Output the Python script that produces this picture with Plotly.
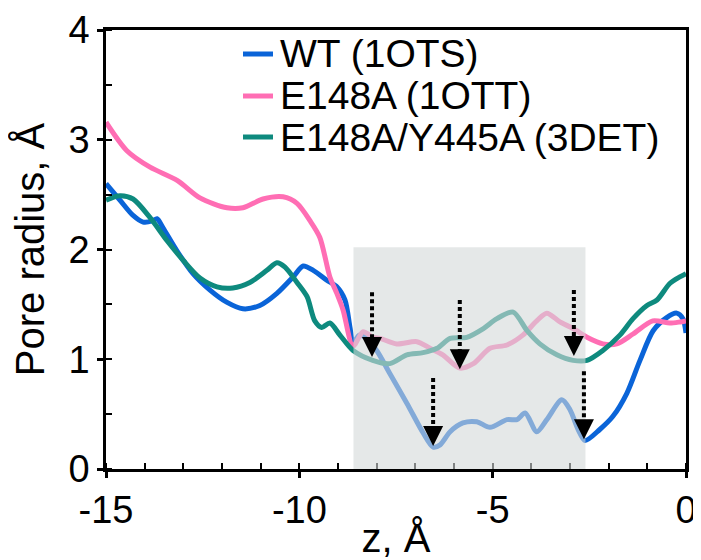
import plotly.graph_objects as go

# ---------------- data ----------------
series_names = ["WT (1OTS)", "E148A (1OTT)", "E148A/Y445A (3DET)"]
series_colors = ["#0a64d8", "#ff6eb4", "#0e8a7e"]

wt_z = [-15.0, -14.64, -14.3, -14.04, -13.8, -13.68, -13.53, -13.17, -12.75, -12.31,
        -11.88, -11.46, -11.02, -10.58, -10.16, -9.9, -9.64, -9.29, -9.03, -8.82,
        -8.69, -8.61, -8.45, -8.3, -8.0, -7.66, -7.22, -6.8, -6.54, -6.36,
        -6.1, -5.77, -5.41, -5.07, -4.63, -4.37, -4.16, -3.86, -3.6, -3.21,
        -3.0, -2.79, -2.61, -2.23, -1.89, -1.53, -1.19, -0.85, -0.5, -0.24,
        -0.08, 0.0]
wt_r = [2.60, 2.45, 2.31, 2.25, 2.26, 2.28, 2.20, 1.99, 1.78, 1.63,
        1.52, 1.46, 1.49, 1.60, 1.75, 1.85, 1.81, 1.72, 1.66, 1.54,
        1.29, 1.15, 1.22, 1.20, 1.08, 0.87, 0.60, 0.33, 0.20, 0.22,
        0.34, 0.42, 0.43, 0.38, 0.45, 0.45, 0.51, 0.34, 0.45, 0.63,
        0.54, 0.36, 0.26, 0.36, 0.48, 0.69, 0.99, 1.26, 1.38, 1.42,
        1.37, 1.24]

e148a_z = [-15.0, -14.46, -13.86, -13.16, -12.57, -11.87, -11.46, -10.94, -10.42, -10.06,
           -9.72, -9.47, -9.21, -9.03, -8.87, -8.61, -8.35, -8.1, -7.91, -7.48,
           -6.96, -6.62, -6.29, -5.85, -5.5, -5.07, -4.63, -4.22, -3.86, -3.6,
           -3.26, -2.92, -2.56, -2.15, -1.79, -1.37, -0.86, -0.42, -0.16, 0.0]
e148a_r = [3.16, 2.90, 2.75, 2.63, 2.47, 2.38, 2.38, 2.46, 2.48, 2.42,
           2.26, 2.11, 1.75, 1.60, 1.45, 1.12, 1.25, 1.20, 1.19, 1.14,
           1.16, 1.10, 1.04, 0.92, 0.96, 1.10, 1.13, 1.22, 1.35, 1.42,
           1.34, 1.28, 1.20, 1.14, 1.14, 1.23, 1.35, 1.33, 1.34, 1.35]

dbl_z = [-15.0, -14.64, -14.3, -13.86, -13.42, -13.0, -12.57, -12.13, -11.72, -11.28,
         -10.84, -10.58, -10.37, -10.06, -9.8, -9.6, -9.42, -9.21, -8.95, -8.61,
         -8.1, -7.66, -7.22, -6.8, -6.44, -6.1, -5.67, -5.24, -4.89, -4.47,
         -4.11, -3.78, -3.34, -2.92, -2.56, -2.15, -1.71, -1.37, -1.01, -0.75,
         -0.42, -0.16, 0.0]
dbl_r = [2.45, 2.49, 2.46, 2.29, 2.08, 1.90, 1.74, 1.66, 1.65, 1.70,
         1.81, 1.88, 1.84, 1.70, 1.57, 1.35, 1.29, 1.33, 1.22, 1.08,
         0.99, 0.96, 1.04, 1.06, 1.10, 1.19, 1.20, 1.28, 1.37, 1.43,
         1.26, 1.14, 1.04, 0.99, 0.99, 1.08, 1.22, 1.37, 1.49, 1.54,
         1.69, 1.75, 1.78]

# highlighted region and arrows
region_z = [-8.6, -2.6]
region_r = [0.0, 2.02]
arrow_z = [-8.12, -5.85, -2.9, -6.54, -2.64]
arrow_top = [1.61, 1.54, 1.63, 0.83, 0.89]
arrow_tip = [1.02, 0.91, 1.03, 0.21, 0.27]

x_ticks = [-15, -10, -5, 0]
y_ticks = [0, 1, 2, 3, 4]

FONT = "Liberation Sans, Arial, sans-serif"

# page body has an 8px default margin; size the figure to fit the 701x560 window
W, H = 693, 552
ML, MR, MT, MB = 98, 15, 22, 91
PW, PH = W - ML - MR, H - MT - MB

fig = go.Figure()
for name, color, z, r in zip(series_names, series_colors,
                             [wt_z, e148a_z, dbl_z], [wt_r, e148a_r, dbl_r]):
    fig.add_trace(go.Scatter(x=z, y=r, mode="lines", name=name,
                             line=dict(color=color, width=5, shape="spline", smoothing=0.8),
                             showlegend=False))

# translucent grey region drawn over the curves
fig.add_shape(type="rect", xref="x", yref="y",
              x0=region_z[0], x1=region_z[1], y0=region_r[0] - 0.02, y1=region_r[1],
              fillcolor="rgba(212,216,216,0.6)", line=dict(width=0), layer="above")

# dotted arrow shafts + arrowheads
for az, at, tip in zip(arrow_z, arrow_top, arrow_tip):
    fig.add_shape(type="line", xref="x", yref="y", x0=az, x1=az, y0=at, y1=tip + 0.13,
                  line=dict(color="black", width=4, dash="4px,3px"), layer="above")
    fig.add_annotation(x=az, y=tip, xref="x", yref="y", ax=az, ay=tip + 0.18,
                       axref="x", ayref="y", text="", showarrow=True,
                       arrowhead=2, arrowsize=2.0, arrowwidth=2, arrowcolor="black")

# legend (manual, to match tight line spacing); positions in plot-area pixels
leg_y_px = [24, 66, 107]
for name, color, py in zip(series_names, series_colors, leg_y_px):
    yp = 1 - py / PH
    fig.add_shape(type="line", xref="paper", yref="paper",
                  x0=137 / PW, x1=167 / PW, y0=yp, y1=yp,
                  line=dict(color=color, width=5), layer="above")
    fig.add_annotation(xref="paper", yref="paper", x=172 / PW, y=yp,
                       xanchor="left", yanchor="middle", text=name, showarrow=False,
                       font=dict(family=FONT, size=39, color="black"))

axis_common = dict(showline=True, linecolor="black", linewidth=2.5, mirror=True,
                   ticks="outside", ticklen=6, tickwidth=2.5, tickcolor="black",
                   showgrid=False, zeroline=False, automargin=False,
                   tickfont=dict(family=FONT, size=38, color="black"))

fig.update_xaxes(range=[-15, 0], tickvals=x_ticks, ticktext=[str(v) for v in x_ticks],
                 minor=dict(ticks="inside", dtick=1, tick0=0, ticklen=6, tickwidth=2, tickcolor="black"),
                 title=dict(text="z, Å", font=dict(family=FONT, size=40, color="black"), standoff=0),
                 **axis_common)
fig.update_yaxes(range=[0, 4], tickvals=y_ticks, ticktext=[str(v) for v in y_ticks],
                 minor=dict(ticks="inside", dtick=0.5, tick0=0, ticklen=6, tickwidth=2, tickcolor="black"),
                 title=dict(text="Pore radius, Å", font=dict(family=FONT, size=40, color="black"), standoff=12),
                 **axis_common)

fig.update_layout(width=W, height=H, margin=dict(l=ML, r=MR, t=MT, b=MB),
                  plot_bgcolor="white", paper_bgcolor="white", showlegend=False)

fig.write_html("out.html")
